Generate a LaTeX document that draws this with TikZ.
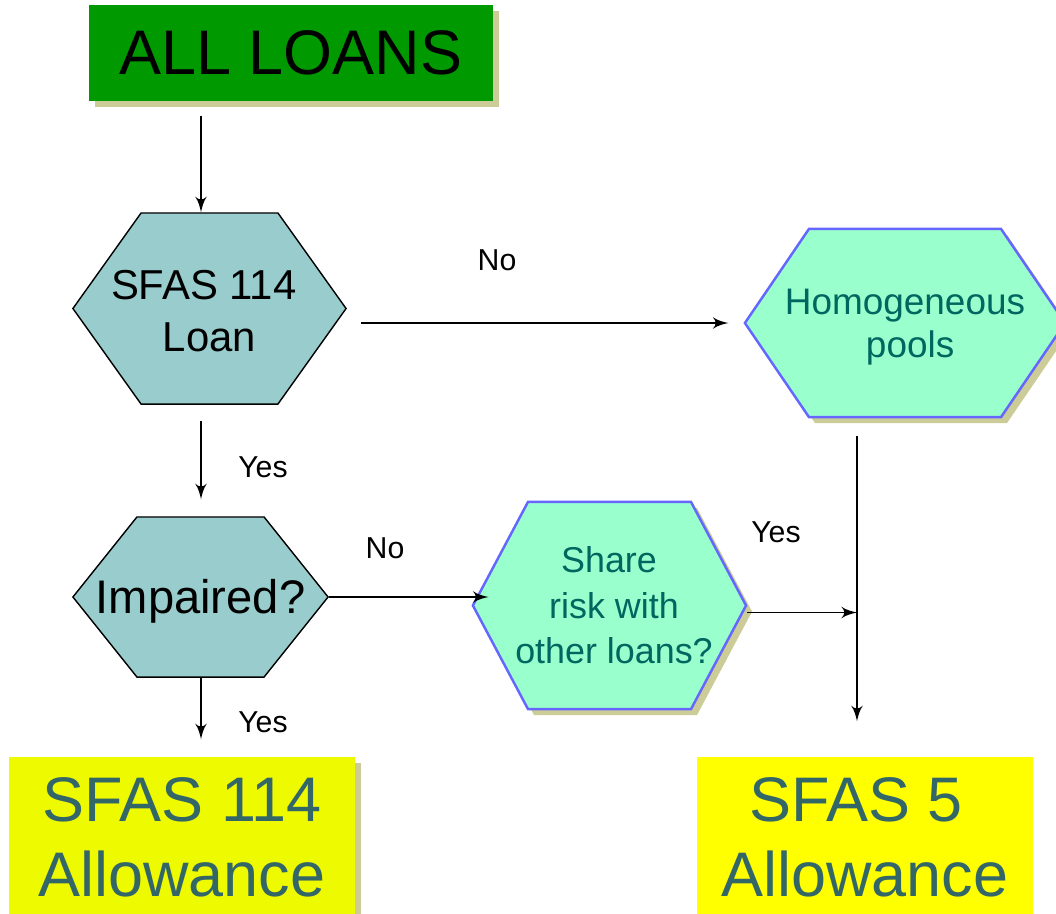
\documentclass[tikz,border=0pt]{standalone}
\usepackage{fontspec}
\setmainfont{Liberation Sans}
\usetikzlibrary{shapes,shapes.symbols,arrows,positioning,calc,shadows}

\definecolor{loansgreen}{HTML}{009900}
\definecolor{shadowkhaki}{HTML}{CCCC99}
\definecolor{decisionteal}{HTML}{99CCCC}
\definecolor{choicemint}{HTML}{99FFCC}
\definecolor{choiceblue}{HTML}{6666FF}
\definecolor{choicetext}{HTML}{006660}
\definecolor{resulttext}{HTML}{336666}
\definecolor{allowlime}{HTML}{EEFA00}
\definecolor{allowyellow}{HTML}{FFFF00}

\begin{document}
\begin{tikzpicture}[x=0.01cm, y=-0.01cm]
    % Estilos
    \tikzstyle{shade} = [drop shadow={shadow xshift=0.06cm, shadow yshift=-0.06cm, fill=shadowkhaki, opacity=1}]
    \tikzstyle{startbox} = [rectangle, fill=loansgreen, text=black, minimum width=4.04cm, minimum height=0.96cm, font=\fontsize{17.9}{21.3}\selectfont]
    \tikzstyle{decision} = [signal, signal to=east and west, draw=black, line width=0.4pt, fill=decisionteal, inner sep=0pt]
    \tikzstyle{choice} = [signal, signal to=east and west, draw=choiceblue, line width=0.7pt, fill=choicemint, inner sep=0pt, shade]
    \tikzstyle{decisiontext} = [text=black, align=center, inner sep=0pt]
    \tikzstyle{choicetext} = [text=choicetext, align=center, inner sep=0pt]
    \tikzstyle{result} = [rectangle, text=resulttext, align=center, minimum height=1.6cm, font=\fontsize{17.9}{21.3}\selectfont]
    \tikzstyle{tag} = [font=\fontsize{8.6}{10}\selectfont, inner sep=0pt]
    \tikzstyle{line} = [draw, -latex', line width=0.55pt]

    \useasboundingbox (0,0) rectangle (1056,914);

    % Nós
    \node [startbox, shade] (all) at (291,53) {ALL LOANS};
    \node [decision, minimum width=2.73cm, minimum height=1.91cm, signal pointer angle=109,
        label={[decisiontext, yshift=-0.03cm, font=\fontsize{11.9}{14.8}\selectfont]center:SFAS 114\hspace*{.278em}\\Loan}] (loan) at (209.5,308.5) {};
    \node [choice, minimum width=3.2cm, minimum height=1.88cm, signal pointer angle=111.5,
        label={[choicetext, yshift=-0.04cm, font=\fontsize{10.5}{12.3}\selectfont]center:Homogeneous\\\hspace*{.278em}pools}] (pools) at (905,323) {};
    \node [decision, minimum width=2.55cm, minimum height=1.6cm, signal pointer angle=102.7,
        label={[decisiontext, yshift=-0.04cm, font=\fontsize{13.4}{16}\selectfont]center:Impaired?}] (impaired) at (200.5,597) {};
    \node [choice, minimum width=2.73cm, minimum height=2.07cm, signal pointer angle=124,
        label={[choicetext, xshift=0.045cm, font=\fontsize{10.2}{12.9}\selectfont]center:Share\hspace*{.278em}\\risk with\\other loans?}] (share) at (609.5,605.5) {};
    \node [result, fill=allowlime, minimum width=3.46cm, shade] (fas114) at (182,837) {SFAS 114\\Allowance};
    \node [result, fill=allowyellow, minimum width=3.36cm] (fas5) at (865,837) {SFAS 5\hspace*{.278em}\\Allowance};

    \coordinate (trunk) at (201,0);
    \coordinate (rail) at (857,0);

    % Rótulos
    \node [tag] (nopools) at (497,260) {No};
    \node [tag] (yesloan) at (263,467) {Yes};
    \node [tag] (noshare) at (385,548) {No};
    \node [tag] (yesshare) at (776,532) {Yes};
    \node [tag] (yesimpaired) at (263,722) {Yes};

    % Conexões
    \path [line] ($(all.south -| trunk)+(0,14)$) -- (loan.north -| trunk);
    \path [line] ($(loan.east |- pools.west)+(14,0)$) -- ($(pools.west)+(-15,0)$);
    \path [line] ($(loan.south -| trunk)+(0,16)$) -- ($(impaired.north -| trunk)+(0,-17)$);
    \path [line] (impaired.east) -- ($(share.west |- impaired.east)+(17,0)$);
    \path [line] ($(share.east)+(0,7)$) -- ($(share.east -| rail)+(0,7)$);
    \path [line] ($(pools.south -| rail)+(0,18)$) -- ($(fas5.north -| rail)+(0,-35)$);
    \path [line] (impaired.south -| trunk) -- ($(fas114.north -| trunk)+(0,-17)$);
\end{tikzpicture}
\end{document}
